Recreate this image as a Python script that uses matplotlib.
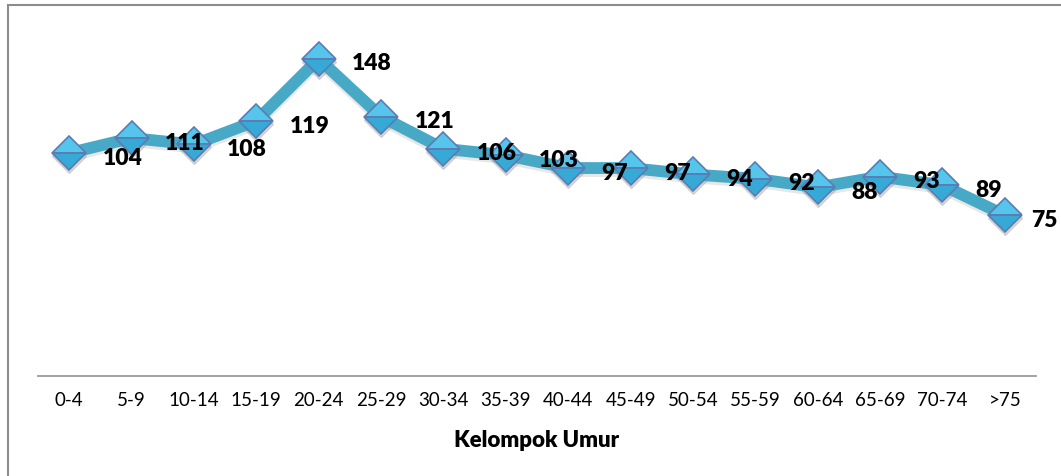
import matplotlib
matplotlib.use('Agg')
import matplotlib.pyplot as plt
from matplotlib.patches import Rectangle
from matplotlib.transforms import offset_copy
import numpy as np

# Data
kelompok = ['0-4', '5-9', '10-14', '15-19', '20-24', '25-29', '30-34', '35-39',
            '40-44', '45-49', '50-54', '55-59', '60-64', '65-69', '70-74', '>75']
nilai = [104, 111, 108, 119, 148, 121, 106, 103, 97, 97, 94, 92, 88, 93, 89, 75]

plt.rcParams['font.family'] = ['Lato', 'DejaVu Sans']

W, H = 1061, 477
fig = plt.figure(figsize=(W / 100, H / 100), dpi=100)
ax = fig.add_axes([38 / W, 100 / H, 998 / W, 343 / H])

x = np.arange(len(kelompok))

# soft shadow under the line and markers
shadow = offset_copy(ax.transData, fig=fig, x=0, y=-3, units='dots')
ax.plot(x, nilai, color='#b0b0b0', lw=8.5, alpha=0.3, transform=shadow,
        solid_joinstyle='round', zorder=1)
ax.plot(x, nilai, ls='none', marker='D', ms=17.5, color='#9a9a9a', alpha=0.35,
        transform=shadow, zorder=1)

# main line
ax.plot(x, nilai, color='#47a9c5', lw=8.5, solid_joinstyle='miter', zorder=2)
# diamond markers with a two-tone bevel look
ax.plot(x, nilai, ls='none', marker='D', ms=17.5, fillstyle='top',
        markerfacecolor='#55c5ec', markerfacecoloralt='#36a9d6',
        markeredgecolor='#5b7bb3', mew=1.2, zorder=3)

# data labels to the right of each point (last one pulled in to stay inside)
for i, (xi, v) in enumerate(zip(x, nilai)):
    dx = 19 if i == len(nilai) - 1 else 24
    ax.annotate(str(v), (xi, v), xytext=(dx, -3), textcoords='offset points',
                ha='left', va='center', fontsize=16.5, fontweight='heavy',
                color='black', zorder=4)

ax.set_xlim(-0.5, len(kelompok) - 0.5)
ax.set_ylim(0, 160)
ax.set_xticks(x)
ax.set_xticklabels(kelompok, fontsize=13.5)
ax.set_yticks([])
ax.tick_params(axis='x', length=0, pad=11)
for s in ['top', 'right', 'left']:
    ax.spines[s].set_visible(False)
ax.spines['bottom'].set_color('#9a9a9a')
ax.spines['bottom'].set_linewidth(1.3)
ax.set_xlabel('Kelompok Umur', fontsize=16, fontweight='heavy', labelpad=15)
ax.patch.set_visible(False)

# outer chart frame (right and bottom edges fall outside the image)
fig.patches.append(Rectangle((8 / W, -0.1), 1.2, 1 - 6 / H + 0.1,
                             transform=fig.transFigure, fill=False,
                             edgecolor='#8c8c8c', lw=1.5))

fig.savefig('out.png', dpi=100)
